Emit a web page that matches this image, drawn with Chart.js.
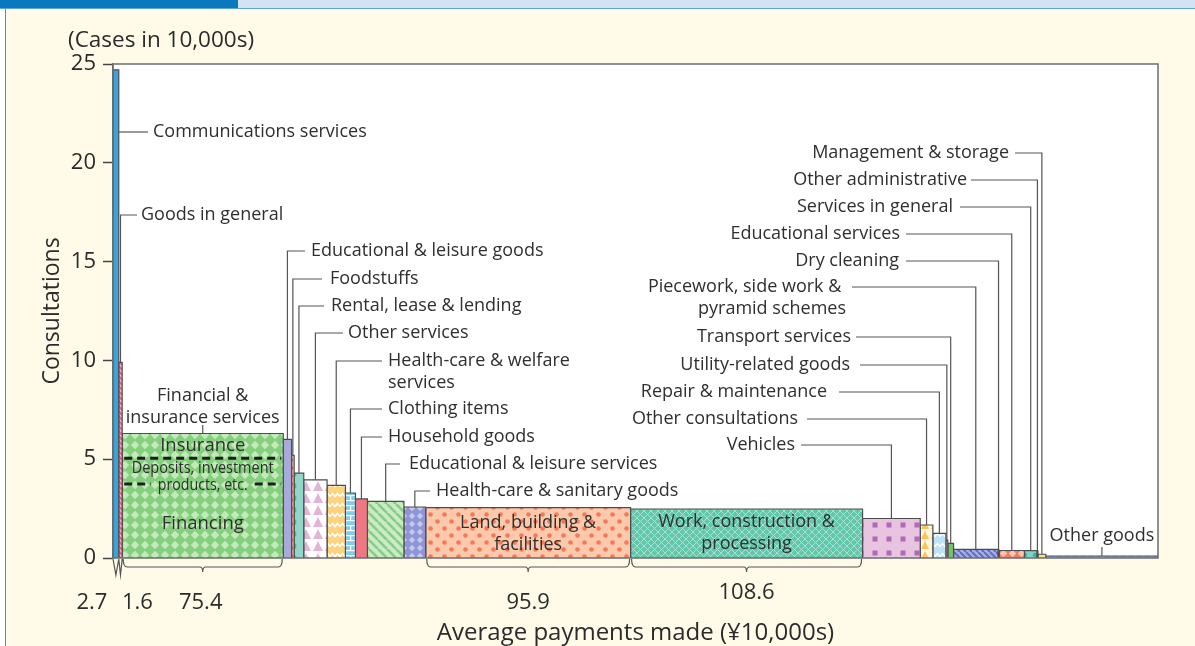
<!DOCTYPE html>
<html>
<head>
<meta charset="utf-8">
<script src="https://cdn.jsdelivr.net/npm/chart.js@4.4.0/dist/chart.umd.min.js"></script>
<style>
  html, body { margin: 0; padding: 0; }
  body { width: 1195px; height: 646px; background: #fffbe8; position: relative; overflow: hidden; }
  #band1 { position: absolute; left: 0; top: 0; width: 238px; height: 8px; background: #0a78bf; }
  #band2 { position: absolute; left: 238px; top: 0; right: 0; height: 8px; background: #d3e3f3; }
  #rule { position: absolute; left: 0; top: 8px; right: 0; height: 1px; background: #5aa7dc; }
  #edge { position: absolute; left: 0; top: 9px; width: 5px; bottom: 0; background: #fff; border-right: 1.5px solid #3f92d2; }
  #wrap { position: absolute; left: 0; top: 0; width: 1195px; height: 646px; }
</style>
</head>
<body>
<div id="band1"></div><div id="band2"></div><div id="rule"></div><div id="edge"></div>
<div id="wrap"><canvas id="myChart" width="1195" height="646"></canvas></div>
<script>
const categories = [
  'Communications services', 'Goods in general', 'Financial & insurance services',
  'Educational & leisure goods', 'Foodstuffs', 'Rental, lease & lending', 'Other services',
  'Health-care & welfare services', 'Clothing items', 'Household goods',
  'Educational & leisure services', 'Health-care & sanitary goods', 'Land, building & facilities',
  'Work, construction & processing', 'Vehicles', 'Other consultations', 'Repair & maintenance',
  'Utility-related goods', 'Transport services', 'Piecework, side work & pyramid schemes',
  'Dry cleaning', 'Educational services', 'Services in general', 'Other administrative',
  'Management & storage', 'Other goods'
];
// bar height: consultations (cases in 10,000s)
const consultations = [24.7, 9.9, 6.3, 6.0, 5.2, 4.3, 3.95, 3.68, 3.29, 2.99, 2.87, 2.58, 2.55, 2.48,
  2.0, 1.67, 1.25, 0.91, 0.74, 0.44, 0.4, 0.38, 0.37, 0.35, 0.19, 0.1];
// bar width: average payments made (10,000 yen)
const avgPayments = [2.7, 1.6, 75.4, 3.9, 1.2, 4.5, 10.9, 8.6, 4.7, 5.6, 17.1, 10.2, 95.9, 108.6,
  27.0, 5.9, 6.1, 0.9, 2.7, 20.8, 0.5, 11.9, 5.8, 0.5, 3.7, 52.5];

const paymentLabels = ['2.7', '1.6', '75.4', '95.9', '108.6'];
const labelledBars = [0, 1, 2, 12, 13];
const yTicks = [0, 5, 10, 15, 20, 25];

const financeParts = ['Insurance', 'Deposits, investment', 'products, etc.', 'Financing'];
const financeSplits = [5.05, 3.75];

let starts = [];
let acc = 0;
avgPayments.forEach(w => { starts.push(acc); acc += w; });

// ---- fill patterns
function makePattern(size, bg, paint) {
  const c = document.createElement('canvas');
  c.width = size; c.height = size;
  const g = c.getContext('2d');
  g.fillStyle = bg; g.fillRect(0, 0, size, size);
  if (paint) paint(g, size);
  return g.createPattern(c, 'repeat');
}
const dots = (size, bg, fg, r, stagger) => makePattern(size, bg, (g, s) => {
  g.fillStyle = fg;
  const pts = stagger ? [[s / 4, s / 4], [3 * s / 4, 3 * s / 4]] : [[s / 2, s / 2]];
  pts.forEach(p => { g.beginPath(); g.arc(p[0], p[1], r, 0, Math.PI * 2); g.fill(); });
});
const squares = (size, bg, fg, w) => makePattern(size, bg, (g, s) => {
  g.fillStyle = fg; g.fillRect((s - w) / 2, (s - w) / 2, w, w);
});
const stripes = (size, bg, fg, lw) => makePattern(size, bg, (g, s) => {
  g.strokeStyle = fg; g.lineWidth = lw; g.beginPath();
  for (let k = -1; k <= 1; k++) { g.moveTo(k * s, 0); g.lineTo(k * s + s, s); }
  g.stroke();
});
const diamonds = (size, bg, fg) => makePattern(size, bg, (g, s) => {
  g.fillStyle = fg; g.beginPath();
  g.moveTo(s / 2, 0.8); g.lineTo(s - 0.8, s / 2); g.lineTo(s / 2, s - 0.8); g.lineTo(0.8, s / 2);
  g.closePath(); g.fill();
});
const triangles = (size, bg, fg) => makePattern(size, bg, (g, s) => {
  g.fillStyle = fg; g.beginPath();
  g.moveTo(s / 2, 1); g.lineTo(s - 1, s - 1); g.lineTo(1, s - 1); g.closePath(); g.fill();
});
const zigzag = (size, bg, fg, lw) => makePattern(size, bg, (g, s) => {
  g.strokeStyle = fg; g.lineWidth = lw; g.beginPath();
  g.moveTo(0, s * 0.65); g.lineTo(s / 4, s * 0.35); g.lineTo(s / 2, s * 0.65);
  g.lineTo(3 * s / 4, s * 0.35); g.lineTo(s, s * 0.65); g.stroke();
});
const bricks = (size, bg, fg) => makePattern(size, bg, (g, s) => {
  g.fillStyle = fg;
  g.fillRect(0, 0, s, 1.2); g.fillRect(0, s / 2, s, 1.2);
  g.fillRect(s / 2, 0, 1.2, s / 2); g.fillRect(0, s / 2, 1.2, s / 2);
});
const cross = (size, bg, fg, lw) => makePattern(size, bg, (g, s) => {
  g.strokeStyle = fg; g.lineWidth = lw; g.beginPath();
  g.moveTo(0, 0); g.lineTo(s, s); g.moveTo(s, 0); g.lineTo(0, s); g.stroke();
});
const dashes = (size, bg, fg) => makePattern(size, bg, (g, s) => {
  g.fillStyle = fg; g.fillRect(1, s / 2 - 0.5, s / 2, 1);
});

const fills = [
  '#3aa3dc', stripes(5, '#e9677b', '#f7c6cf', 1.3), diamonds(10, '#86cf7f', '#c4eabc'),
  dots(12, '#a7aadb', '#5469c4', 2.2), dots(8, '#fac2a6', '#ee734f', 1.6), squares(12, '#93d7ca', '#3db59d', 4.5),
  triangles(12, '#ffffff', '#e3b4d6'), zigzag(10, '#ffd27e', '#ffffff', 1.6), bricks(10, '#7fcdef', '#ffffff'),
  '#ef7784', stripes(9, '#c9ebc6', '#88cc85', 2.6), diamonds(8, '#8e95d5', '#c3c7ee'),
  dots(14, '#fdc9ad', '#f07b58', 2.3, true), cross(7, '#62c7ab', '#a9e1d1', 1), squares(14, '#e9c4e1', '#b068b8', 5),
  triangles(10, '#fff6dc', '#f9c45c'), zigzag(10, '#bde2f7', '#ffffff', 1.4), '#f3a2b0', '#73c270',
  stripes(6, '#a8b0e2', '#5e6cc2', 2), '#ef8a8a', diamonds(9, '#f27d5c', '#fbc7b5'),
  dots(10, '#83d3c5', '#3db59d', 2.2), '#c9a7d6', '#f8e27e', dashes(8, '#9cbde7', '#5f86c8')
];

const datasets = categories.map((name, i) => {
  const x0 = starts[i], x1 = starts[i] + avgPayments[i], h = consultations[i];
  return {
    label: name,
    data: [{x: x0, y: 0}, {x: x0, y: h}, {x: x1, y: h}, {x: x1, y: 0}],
    showLine: true,
    fill: 'origin',
    backgroundColor: fills[i],
    borderColor: '#4d4d4d',
    borderWidth: 1.2,
    pointRadius: 0,
    tension: 0
  };
});

// where the callout texts sit (pixels); leaders run to the bars through the scales
const labelLayout = [
  {i: 0, lines: ['Communications services'], x: 153, y: 132, align: 'left', lead: 148, side: true},
  {i: 1, lines: ['Goods in general'], x: 141, y: 215, align: 'left', lead: 137},
  {i: 2, lines: ['Financial &', 'insurance services'], y: 396, align: 'center', lead: 425},
  {i: 3, lines: ['Educational & leisure goods'], x: 311, y: 251, align: 'left', lead: 305},
  {i: 4, lines: ['Foodstuffs'], x: 330, y: 279, align: 'left', lead: 322},
  {i: 5, lines: ['Rental, lease & lending'], x: 331, y: 306, align: 'left', lead: 324},
  {i: 6, lines: ['Other services'], x: 348, y: 333, align: 'left', lead: 343},
  {i: 7, lines: ['Health-care & welfare', 'services'], x: 388, y: 361, align: 'left', lead: 382},
  {i: 8, lines: ['Clothing items'], x: 388, y: 409, align: 'left', lead: 382},
  {i: 9, lines: ['Household goods'], x: 388, y: 437, align: 'left', lead: 382},
  {i: 10, lines: ['Educational & leisure services'], x: 409, y: 464, align: 'left', lead: 400},
  {i: 11, lines: ['Health-care & sanitary goods'], x: 436, y: 491, align: 'left', lead: 430},
  {i: 24, lines: ['Management & storage'], x: 1009, y: 153, align: 'right', lead: 1015},
  {i: 23, lines: ['Other administrative'], x: 967, y: 180, align: 'right', lead: 971},
  {i: 22, lines: ['Services in general'], x: 953, y: 207, align: 'right', lead: 960},
  {i: 21, lines: ['Educational services'], x: 900, y: 234, align: 'right', lead: 906},
  {i: 20, lines: ['Dry cleaning'], x: 899, y: 261, align: 'right', lead: 906},
  {i: 19, lines: ['Piecework, side work & ', 'pyramid schemes'], x: 846, y: 287, align: 'right', lead: 852},
  {i: 18, lines: ['Transport services'], x: 851, y: 337, align: 'right', lead: 856},
  {i: 17, lines: ['Utility-related goods'], x: 850, y: 365, align: 'right', lead: 860},
  {i: 16, lines: ['Repair & maintenance'], x: 827, y: 392, align: 'right', lead: 839},
  {i: 15, lines: ['Other consultations'], x: 798, y: 419, align: 'right', lead: 807},
  {i: 14, lines: ['Vehicles'], x: 795, y: 445, align: 'right', lead: 801},
  {i: 25, lines: ['Other goods'], y: 536, align: 'center', lead: 547}
];
const insideLabels = [
  {i: 12, lines: ['Land, building &', 'facilities'], y: 523},
  {i: 13, lines: ['Work, construction &', 'processing'], y: 522}
];
const paymentLabelPos = [{dx: -24, y: 603}, {dx: 17, y: 603}, {dx: -2, y: 603}, {dx: 0, y: 603}, {dx: 0, y: 593}];

const FONT = "'Open Sans', sans-serif";
Chart.defaults.font.family = FONT;

const annotate = {
  id: 'annotate',
  beforeDraw(chart) {
    const {ctx, chartArea: a} = chart;
    ctx.save();
    ctx.fillStyle = '#ffffff';
    ctx.fillRect(a.left, a.top, a.right - a.left, a.bottom - a.top);
    ctx.restore();
  },
  afterDraw(chart) {
    const {ctx, chartArea: a, scales: {x, y}} = chart;
    const left = i => x.getPixelForValue(starts[i]);
    const right = i => x.getPixelForValue(starts[i] + avgPayments[i]);
    const mid = i => (left(i) + right(i)) / 2;
    const top = i => y.getPixelForValue(consultations[i]);
    ctx.save();

    // frame
    ctx.strokeStyle = '#6d6d6d'; ctx.lineWidth = 1.5;
    ctx.strokeRect(a.left, a.top, a.right - a.left, a.bottom - a.top);

    // callouts
    ctx.font = '18px ' + FONT; ctx.fillStyle = '#2f2f2f'; ctx.textBaseline = 'middle';
    ctx.strokeStyle = '#555'; ctx.lineWidth = 1.2;
    labelLayout.forEach(l => {
      const cx = mid(l.i), ty = top(l.i);
      ctx.beginPath();
      if (l.align === 'center') {
        ctx.moveTo(cx, l.lead); ctx.lineTo(cx, ty);
      } else if (l.side) {
        ctx.moveTo(right(l.i), l.y); ctx.lineTo(l.lead, l.y);
      } else {
        ctx.moveTo(l.lead, l.y); ctx.lineTo(cx, l.y); ctx.lineTo(cx, ty);
      }
      ctx.stroke();
      ctx.textAlign = l.align;
      l.lines.forEach((t, k) => ctx.fillText(t, l.align === 'center' ? cx : l.x, l.y + k * 21.5));
    });

    // text inside big bars
    ctx.textAlign = 'center';
    insideLabels.forEach(l => {
      l.lines.forEach((t, k) => ctx.fillText(t, mid(l.i), l.y + k * 21.5));
    });

    // financial breakdown
    const fx0 = left(2), fx1 = right(2), fc = mid(2);
    const ys = financeSplits.map(v => y.getPixelForValue(v));
    ctx.save();
    ctx.setLineDash([8, 5]); ctx.lineWidth = 3; ctx.strokeStyle = '#1e1e1e';
    ctx.beginPath();
    ctx.moveTo(fx0 + 2, ys[0]); ctx.lineTo(fx1 - 2, ys[0]);
    ctx.moveTo(fx0 + 2, ys[1]); ctx.lineTo(fc - 52, ys[1]);
    ctx.moveTo(fc + 52, ys[1]); ctx.lineTo(fx1 - 2, ys[1]);
    ctx.stroke();
    ctx.restore();
    ctx.font = '18.5px ' + FONT;
    ctx.fillText(financeParts[0], fc, (top(2) + ys[0]) / 2);
    ctx.font = '17px ' + FONT;
    ctx.fillText(financeParts[1], fc, ys[0] + 10, 142);
    ctx.fillText(financeParts[2], fc, ys[1] + 1, 90);
    ctx.font = '18.5px ' + FONT;
    ctx.fillText(financeParts[3], fc, (ys[1] + a.bottom) / 2 + 3);

    // braces under the bars and their widths
    ctx.strokeStyle = '#555'; ctx.lineWidth = 1.2;
    const b0 = a.bottom + 1;
    ctx.beginPath();
    [0, 1].forEach(i => {
      ctx.moveTo(left(i), b0); ctx.lineTo(mid(i), b0 + 16); ctx.lineTo(right(i), b0);
    });
    [2, 12, 13].forEach(i => {
      const x0 = left(i) + 1, x1 = right(i) - 1, c = mid(i), by = a.bottom + 9;
      ctx.moveTo(x0, b0);
      ctx.quadraticCurveTo(x0, by, x0 + 4, by);
      ctx.lineTo(c - 3, by);
      ctx.quadraticCurveTo(c, by, c, by + 5);
      ctx.quadraticCurveTo(c, by, c + 3, by);
      ctx.lineTo(x1 - 4, by);
      ctx.quadraticCurveTo(x1, by, x1, b0);
    });
    ctx.stroke();

    ctx.font = '22px ' + FONT; ctx.fillStyle = '#2b2b2b'; ctx.textAlign = 'center';
    labelledBars.forEach((i, k) => {
      ctx.fillText(paymentLabels[k], mid(i) + paymentLabelPos[k].dx, paymentLabelPos[k].y);
    });

    // axis captions
    ctx.font = '22.5px ' + FONT; ctx.textAlign = 'left';
    ctx.fillText('(Cases in 10,000s)', 68, 41);
    ctx.font = '24px ' + FONT; ctx.textAlign = 'center';
    ctx.fillText('Average payments made (\u00a510,000s)', (a.left + a.right) / 2, 633);
    ctx.restore();
  }
};

const config = {
  type: 'scatter',
  data: { datasets: datasets },
  options: {
    responsive: false,
    animation: false,
    layout: { padding: { left: 0, top: 64, right: 37, bottom: 88 } },
    scales: {
      x: { type: 'linear', min: 0, max: acc, display: false },
      y: {
        min: 0, max: 25,
        afterBuildTicks: s => { s.ticks = yTicks.map(v => ({value: v})); },
        afterFit: s => { s.width = 113; },
        ticks: { font: { size: 22 }, color: '#2b2b2b', padding: 7 },
        grid: { drawOnChartArea: false, tickLength: 10, tickColor: '#444', tickWidth: 1.5 },
        border: { color: '#6d6d6d', width: 1.5 },
        title: { display: true, text: 'Consultations', font: { size: 23 }, color: '#2b2b2b', padding: { top: 39, bottom: 0 } }
      }
    },
    plugins: {
      legend: { display: false },
      tooltip: { enabled: false }
    }
  },
  plugins: [annotate]
};

const myChart = new Chart(document.getElementById('myChart'), config);
</script>
</body>
</html>
